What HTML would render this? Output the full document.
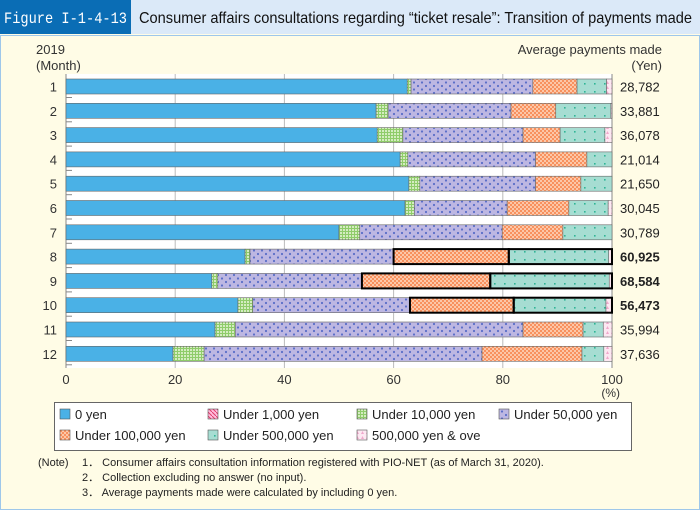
<!DOCTYPE html>
<html><head><meta charset="utf-8"><style>
body{margin:0;width:700px;height:510px;overflow:hidden;background:#fff;font-family:"Liberation Sans",sans-serif}
</style></head><body>
<svg id="s" width="700" height="510" xmlns="http://www.w3.org/2000/svg" font-family="Liberation Sans, sans-serif">
<defs>
<pattern id="pu" width="8" height="7" patternUnits="userSpaceOnUse"><rect width="8" height="7" fill="#bdb7e2"/><circle cx="2" cy="2" r="1.1" fill="#5b6ec8"/><circle cx="6" cy="5.5" r="1.1" fill="#5b6ec8"/></pattern>
<pattern id="or" width="4" height="4" patternUnits="userSpaceOnUse"><rect width="4" height="4" fill="#f8915e"/><rect x="0" y="0" width="2" height="2" fill="#fcc7a8"/><rect x="2" y="2" width="2" height="2" fill="#fcc7a8"/></pattern>
<pattern id="te" width="10" height="8" patternUnits="userSpaceOnUse"><rect width="10" height="8" fill="#a6ddd2"/><rect x="4" y="3" width="1.6" height="1.6" fill="#2fb595"/></pattern>
<pattern id="gr" width="3" height="3" patternUnits="userSpaceOnUse"><rect width="3" height="3" fill="#d4ecc0"/><rect width="3" height="1" fill="#8fcc6a"/><rect width="1" height="3" fill="#8fcc6a"/></pattern>
<pattern id="pk" width="5" height="5" patternUnits="userSpaceOnUse"><rect width="5" height="5" fill="#fde8f2"/><path d="M2.5 1L4 4H1Z" fill="#f0a8cc"/></pattern>
<pattern id="rd" width="4" height="4" patternUnits="userSpaceOnUse"><rect width="4" height="4" fill="#fbd"/><path d="M0 0L4 4" stroke="#e0406a"/></pattern>
</defs>
<rect x="0" y="0" width="700" height="510" fill="#fffce6"/>
<rect x="0.5" y="35.5" width="699" height="474" fill="#fffce6" stroke="#9ec7ea"/>
<rect x="0" y="0" width="700" height="34" fill="#dbe9f8"/>
<rect x="0" y="0" width="131" height="34" fill="#0a6db5"/>
<text x="4" y="23" fill="#fff" font-family="Liberation Mono, monospace" font-size="16" textLength="123" lengthAdjust="spacingAndGlyphs">Figure I-1-4-13</text>
<text x="139" y="23" fill="#111" font-size="16" textLength="553" lengthAdjust="spacingAndGlyphs">Consumer affairs consultations regarding “ticket resale”: Transition of payments made</text>
<rect x="66" y="74" width="546" height="294" fill="#fff"/>
<g id="g"></g>
<text x="36" y="54" font-size="13" fill="#333">2019</text>
<text x="36" y="70" font-size="13" fill="#333">(Month)</text>
<text x="662" y="54" font-size="13" fill="#333" text-anchor="end">Average payments made</text>
<text x="662" y="70" font-size="13" fill="#333" text-anchor="end">(Yen)</text>
<text x="620" y="397" font-size="12" fill="#333" text-anchor="end">(%)</text>
<rect x="54.5" y="402.5" width="577" height="48" fill="#fff" stroke="#666"/>
<g font-size="13" fill="#222">
<rect x="60" y="409" width="10" height="10" fill="#4ab1e6" stroke="#555" stroke-width=".6"/><text x="75" y="419">0 yen</text>
<rect x="208" y="409" width="10" height="10" fill="url(#rd)" stroke="#555" stroke-width=".6"/><text x="223" y="419">Under 1,000 yen</text>
<rect x="357" y="409" width="10" height="10" fill="url(#gr)" stroke="#555" stroke-width=".6"/><text x="372" y="419">Under 10,000 yen</text>
<rect x="499" y="409" width="10" height="10" fill="url(#pu)" stroke="#555" stroke-width=".6"/><text x="514" y="419">Under 50,000 yen</text>
<rect x="60" y="430" width="10" height="10" fill="url(#or)" stroke="#555" stroke-width=".6"/><text x="75" y="440">Under 100,000 yen</text>
<rect x="208" y="430" width="10" height="10" fill="url(#te)" stroke="#555" stroke-width=".6"/><text x="223" y="440">Under 500,000 yen</text>
<rect x="357" y="430" width="10" height="10" fill="url(#pk)" stroke="#555" stroke-width=".6"/><text x="372" y="440">500,000 yen &amp; ove</text>
</g>
<g font-size="11" fill="#222">
<text x="38" y="466">(Note)</text>
<text x="82" y="466">1． Consumer affairs consultation information registered with PIO-NET (as of March 31, 2020).</text>
<text x="82" y="481">2． Collection excluding no answer (no input).</text>
<text x="82" y="496">3． Average payments made were calculated by including 0 yen.</text>
</g>
</svg>
<script>
var d=[[62.5,62.5,63.2,85.5,93.6,99,"28,782"],[56.8,56.8,59,81.5,89.7,99.8,"33,881"],[57,57,61.7,83.7,90.5,98.7,"36,078"],[61.2,61.2,62.6,86,95.4,100,"21,014"],[62.8,62.8,64.8,86,94.3,100,"21,650"],[62.1,62.1,63.8,80.8,92.1,99.3,"30,045"],[50,50,53.8,79.9,91,100,"30,789"],[32.8,32.8,33.7,60,81.1,99.4,"60,925",1],[26.7,26.7,27.8,54.2,77.7,99.5,"68,584",1],[31.5,31.5,34.2,63,82,98.9,"56,473",1],[27.3,27.3,31,83.7,94.7,98.4,"35,994"],[19.6,19.6,25.3,76.2,94.5,98.5,"37,636"]];
var f=["#4ab1e6","url(#rd)","url(#gr)","url(#pu)","url(#or)","url(#te)","url(#pk)"];
var X=function(p){return 66+p*5.46};var h="";
for(var i=1;i<5;i++)h+='<line x1="'+X(i*20)+'" y1="74" x2="'+X(i*20)+'" y2="368" stroke="#bbb"/>';
h+='<line x1="66" y1="74" x2="66" y2="368" stroke="#888"/><line x1="612" y1="74" x2="612" y2="368" stroke="#888"/>';
for(var i=0;i<=5;i++)h+='<text x="'+X(i*20)+'" y="384" font-size="13" fill="#333" text-anchor="middle">'+(i*20)+'</text>';
d.forEach(function(r,i){var y=79+i*24.3,p=0;
 for(var k=0;k<7;k++){var e=k<6?r[k]:100;if(e>p)h+='<rect x="'+X(p)+'" y="'+y+'" width="'+(X(e)-X(p))+'" height="15" fill="'+f[k]+'" stroke="#666" stroke-width=".6"/>';p=Math.max(p,e);}
 if(r[7]){h+='<rect x="'+X(r[3])+'" y="'+y+'" width="'+(X(r[4])-X(r[3]))+'" height="15" fill="none" stroke="#000" stroke-width="2"/><rect x="'+X(r[4])+'" y="'+y+'" width="'+(X(100)-X(r[4]))+'" height="15" fill="none" stroke="#000" stroke-width="2"/>';}
 h+='<line x1="66" y1="'+(y+18.5)+'" x2="72" y2="'+(y+18.5)+'" stroke="#888"/>';
 h+='<text x="57" y="'+(y+12.5)+'" font-size="13" fill="#333" text-anchor="end">'+(i+1)+'</text>';
 h+='<text x="620" y="'+(y+12.5)+'" font-size="13" fill="#222"'+(r[7]?' font-weight="bold"':'')+'>'+r[6]+'</text>';});
document.getElementById("g").innerHTML=h;
</script>
</body></html>
